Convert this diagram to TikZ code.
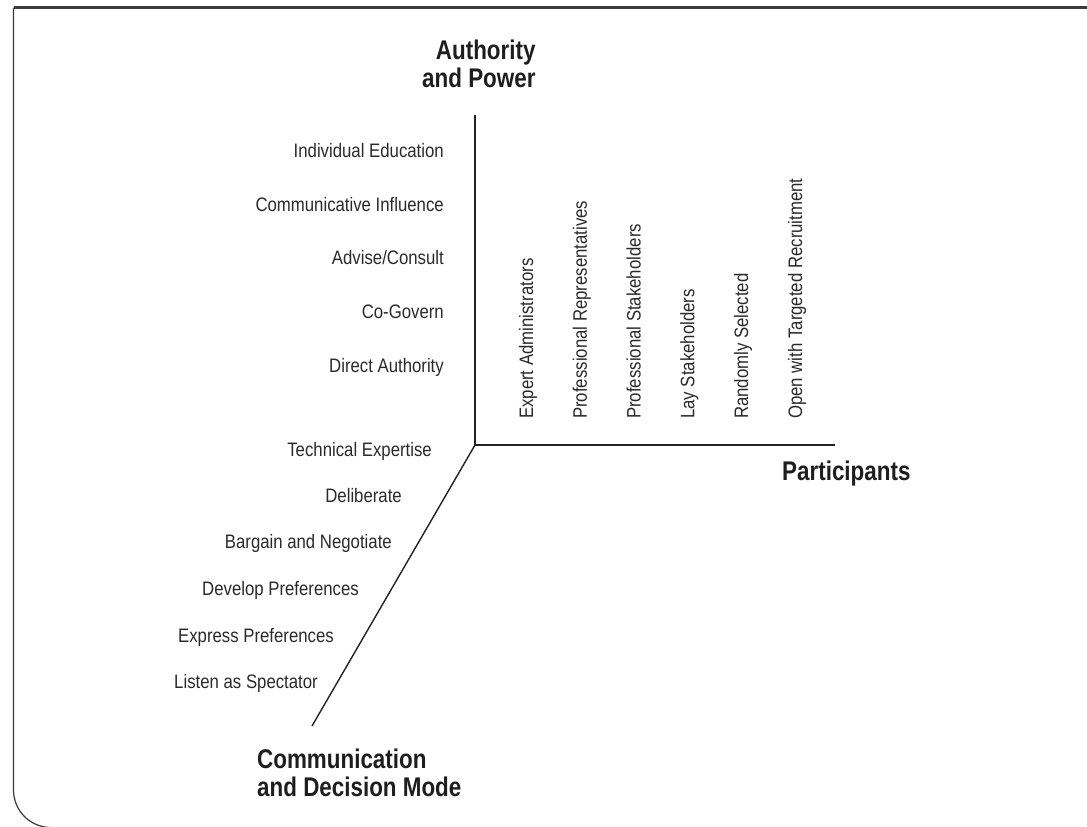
\documentclass[tikz,border=0pt]{standalone}
\usepackage{fontspec}
\setmainfont{Liberation Sans}[FakeStretch=0.86]
\newfontfamily\tfont{Liberation Sans}[FakeStretch=0.83]
\definecolor{txtc}{HTML}{2A2A2A}
\definecolor{ttlc}{HTML}{1E1E1E}
\definecolor{axisc}{HTML}{222222}
\definecolor{framec}{HTML}{3A3A3A}
\begin{document}
\begin{tikzpicture}[x=1pt,y=-1pt,
  lab/.style={font=\fontsize{19.5}{23}\selectfont, text=txtc, inner sep=0pt},
  ttl/.style={font=\tfont\bfseries\fontsize{27}{28}\selectfont, text=ttlc, inner sep=0pt},
  axisline/.style={draw=axisc, line width=1.7pt},
  diagline/.style={draw=axisc, line width=1.4pt},
  framelinetop/.style={draw=framec, line width=2.2pt},
  frameline/.style={draw=framec, line width=1.2pt}]
\useasboundingbox (0,0) rectangle (1087,827);
% frame
\coordinate (ftr) at (1092,7.5);
\coordinate (ftl) at (13.5,7.5);
\coordinate (fbl) at (13.5,790);
\coordinate (fbe) at (51,827.5);
\draw[framelinetop] (ftr) -- (ftl);
\draw[frameline] (ftl) -- (fbl) .. controls (13.5,810.7) and (30.3,827.5) .. (fbe);
% axes
\coordinate (O) at (475,445);
\coordinate (ytop) at (475,115);
\coordinate (xend) at (835,445);
\coordinate (zend) at (312,726);
\draw[axisline] (ytop) -- (O) -- (xend);
\draw[diagline] (O) -- (zend);
% authority labels
\node[lab, anchor=base east] (a1) at (444,157) {Individual Education};
\node[lab, anchor=base east] (a2) at (444,211) {Communicative Influence};
\node[lab, anchor=base east] (a3) at (444,264) {Advise/Consult};
\node[lab, anchor=base east] (a4) at (444,318) {Co-Govern};
\node[lab, anchor=base east] (a5) at (444,372) {Direct Authority};
% communication labels
\node[lab, anchor=base east] (c1) at (432,456) {Technical Expertise};
\node[lab, anchor=base east] (c2) at (402,502) {Deliberate};
\node[lab, anchor=base east] (c3) at (392,548) {Bargain and Negotiate};
\node[lab, anchor=base east] (c4) at (359,595) {Develop Preferences};
\node[lab, anchor=base east] (c5) at (334,642) {Express Preferences};
\node[lab, anchor=base east] (c6) at (318,688) {Listen as Spectator};
% participant labels
\node[lab, rotate=90, anchor=base west] (p1) at (533,419) {Expert Administrators};
\node[lab, rotate=90, anchor=base west] (p2) at (586.8,419) {Professional Representatives};
\node[lab, rotate=90, anchor=base west] (p3) at (640.6,419) {Professional Stakeholders};
\node[lab, rotate=90, anchor=base west] (p4) at (694.4,419) {Lay Stakeholders};
\node[lab, rotate=90, anchor=base west] (p5) at (748.2,419) {Randomly Selected};
\node[lab, rotate=90, anchor=base west] (p6) at (802,419) {Open with Targeted Recruitment};
% titles
\node[ttl, anchor=base west] (t2) at (422,87) {and Power};
\node[ttl, anchor=base east] (t1) at ([yshift=28pt]t2.base east) {Authority};
\node[ttl, anchor=base west] (px) at (782,480) {Participants};
\node[ttl, anchor=base west] (m1) at (257,768) {Communication};
\node[ttl, anchor=base west] (m2) at (257,796) {and Decision Mode};
\end{tikzpicture}
\end{document}
